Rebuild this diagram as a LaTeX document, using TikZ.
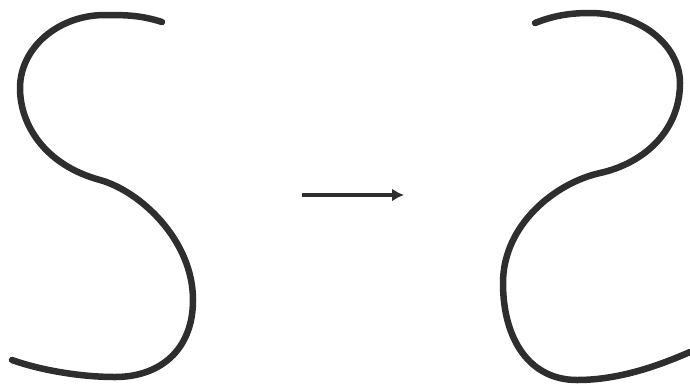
\documentclass[tikz,border=0pt]{standalone}
\usetikzlibrary{arrows.meta}
\definecolor{ink}{HTML}{2E2E2E}
\begin{document}
\begin{tikzpicture}[x=1pt,y=-1pt,
  curve/.style={draw=ink,line width=6.5pt,line cap=round,line join=round},
  pointer/.style={draw=ink,line width=3.4pt,-{Latex[length=12pt,width=13pt]}}]
\useasboundingbox (0,0) rectangle (690,389);
% left S
\path[curve] (162,22) .. controls (140,15) and (125,15) .. (105,15)
  .. controls (58,15) and (20,48) .. (20,88)
  .. controls (20,125) and (45,165) .. (100,180)
  .. controls (140,191) and (193,240) .. (193,300)
  .. controls (193,350) and (160,377) .. (115,377)
  .. controls (80,377) and (40,370) .. (12,360);
% right mirrored S
\path[curve] (535,23) .. controls (555,15) and (572,13) .. (590,13)
  .. controls (640,13) and (680,45) .. (680,83)
  .. controls (680,130) and (645,163) .. (600,173)
  .. controls (555,183) and (503,225) .. (503,283)
  .. controls (503,340) and (530,380) .. (577,380)
  .. controls (620,380) and (660,365) .. (690,352);
% arrow
\coordinate (a) at (302,195);
\coordinate (b) at (404,195);
\draw[pointer] (a) -- (b);
\end{tikzpicture}
\end{document}
